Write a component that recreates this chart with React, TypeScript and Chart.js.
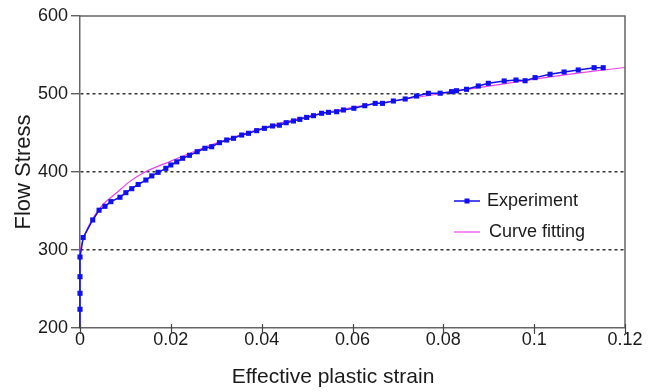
import React, { useEffect, useRef } from 'react';
import { Chart, registerables } from 'chart.js';

Chart.register(...registerables);

const expStrain = [
  0, 0, 0, 0, 0, 0.0007, 0.0028, 0.0042, 0.0055, 0.0068, 0.0088, 0.0101, 0.0114, 0.0128,
  0.0145, 0.0158, 0.0172, 0.0189, 0.02, 0.0213, 0.0226, 0.0241, 0.0258, 0.0275, 0.029,
  0.0307, 0.0323, 0.0338, 0.0356, 0.0371, 0.0389, 0.0406, 0.0424, 0.0439, 0.0454, 0.047,
  0.0484, 0.0499, 0.0514, 0.0532, 0.0547, 0.0565, 0.058, 0.0603, 0.0627, 0.065, 0.0666,
  0.069, 0.0716, 0.0741, 0.0767, 0.0793, 0.0818, 0.0829, 0.0851, 0.0877, 0.0899, 0.0934,
  0.096, 0.098, 0.1002, 0.1035, 0.1066, 0.1097, 0.1132, 0.1152,
];
const expStress = [
  200, 224, 244.5, 265.8, 291, 316, 338.5, 351, 356, 362, 367.6, 373.5, 378.6, 384,
  389.7, 395, 399.6, 404.7, 409, 413, 417.6, 421.4, 426, 430.4, 432.4,
  437.6, 441, 443.2, 447.4, 449.6, 453, 456, 459, 460, 463.2, 465.4,
  467.5, 470, 472.2, 475.3, 476.5, 477.3, 479.5, 481.7, 485, 488, 488,
  491, 493.6, 497.4, 500.9, 501, 503, 504.2, 506, 510.3, 513.7, 516.7,
  517.9, 517, 521, 525.3, 528.2, 530.8, 533.7, 533.7,
];
const fitStrain = [
  0, 0.0005, 0.0015, 0.003, 0.005, 0.008, 0.011, 0.014, 0.02, 0.025, 0.03, 0.04, 0.05,
  0.06, 0.07, 0.08, 0.09, 0.1, 0.11, 0.12,
];
const fitStress = [
  298, 310, 326, 342, 358, 373, 388, 399, 414, 426, 437, 456, 471,
  483, 492, 501, 510, 519, 527, 534,
];
const xTicks = [0, 0.02, 0.04, 0.06, 0.08, 0.1, 0.12];
const yTicks = [200, 300, 400, 500, 600];
const xTitle = 'Effective plastic strain';
const yTitle = 'Flow Stress';
const seriesNames = ['Experiment', 'Curve fitting'];

const FONT = '"Liberation Sans", Arial, Helvetica, sans-serif';
const BLUE = '#1010ee';
const PINK = '#f040f0';

export default function App() {
  const ref = useRef<HTMLCanvasElement>(null);

  useEffect(() => {
    if (!ref.current) return;

    const decor = {
      id: 'decor',
      afterDraw(chart: any) {
        const { ctx, chartArea: a, scales } = chart;
        ctx.save();
        // frame top & right
        ctx.strokeStyle = '#666';
        ctx.lineWidth = 1.5;
        ctx.beginPath();
        ctx.moveTo(a.left, a.top);
        ctx.lineTo(a.right, a.top);
        ctx.lineTo(a.right, a.bottom);
        ctx.stroke();
        // x ticks crossing the axis
        ctx.strokeStyle = '#444';
        ctx.lineWidth = 1.2;
        for (const v of xTicks) {
          const px = Math.round(scales.x.getPixelForValue(v)) + 0.5;
          ctx.beginPath();
          ctx.moveTo(px, a.bottom - 4);
          ctx.lineTo(px, a.bottom + 6);
          ctx.stroke();
        }
        // axis titles
        ctx.fillStyle = '#1a1a1a';
        ctx.textAlign = 'center';
        ctx.textBaseline = 'middle';
        ctx.font = `21px ${FONT}`;
        ctx.fillText(xTitle, 333, 377);
        ctx.save();
        ctx.translate(24, 172);
        ctx.rotate(-Math.PI / 2);
        ctx.font = `22px ${FONT}`;
        ctx.fillText(yTitle, 0, 0);
        ctx.restore();
        // legend
        ctx.textAlign = 'left';
        ctx.font = `18px ${FONT}`;
        ctx.lineWidth = 1.5;
        ctx.strokeStyle = BLUE;
        ctx.beginPath();
        ctx.moveTo(454, 201);
        ctx.lineTo(480, 201);
        ctx.stroke();
        ctx.fillStyle = BLUE;
        ctx.fillRect(464.5, 198.5, 5, 5);
        ctx.strokeStyle = PINK;
        ctx.lineWidth = 1.2;
        ctx.beginPath();
        ctx.moveTo(454, 232);
        ctx.lineTo(480, 232);
        ctx.stroke();
        ctx.fillStyle = '#1a1a1a';
        ctx.fillText(seriesNames[0], 487, 201);
        ctx.fillText(seriesNames[1], 489, 232);
        ctx.restore();
      },
    };

    const chart = new Chart(ref.current, {
      type: 'line',
      data: {
        datasets: [
          {
            label: seriesNames[0],
            data: expStrain.map((x, i) => ({ x, y: expStress[i] })),
            borderColor: BLUE,
            backgroundColor: BLUE,
            borderWidth: 1.5,
            pointStyle: 'rect',
            pointRadius: expStrain.map((_, i) => (i === 0 ? 0 : 3.6)),
            pointBorderWidth: 0,
            tension: 0,
            clip: false,
          },
          {
            label: seriesNames[1],
            data: fitStrain.map((x, i) => ({ x, y: fitStress[i] })),
            borderColor: PINK,
            backgroundColor: PINK,
            borderWidth: 1.2,
            pointRadius: 0,
            cubicInterpolationMode: 'monotone',
          },
        ],
      },
      options: {
        animation: false,
        responsive: true,
        maintainAspectRatio: false,
        layout: { padding: { top: 16, right: 25, left: 0, bottom: 0 } },
        plugins: { legend: { display: false }, tooltip: { enabled: false } },
        scales: {
          x: {
            type: 'linear',
            min: 0,
            max: 0.12,
            afterBuildTicks: (s: any) => {
              s.ticks = xTicks.map((v) => ({ value: v }));
            },
            afterFit: (s: any) => {
              s.height = 64;
            },
            grid: { display: true, drawOnChartArea: false, drawTicks: false },
            border: { display: true, color: '#666', width: 1.5 },
            ticks: {
              padding: 1,
              color: '#1a1a1a',
              font: { family: FONT, size: 18 },
              maxRotation: 0,
              callback: (v: any) => String(Math.round(Number(v) * 100) / 100),
            },
          },
          y: {
            type: 'linear',
            min: 200,
            max: 600,
            afterBuildTicks: (s: any) => {
              s.ticks = yTicks.map((v) => ({ value: v }));
            },
            afterFit: (s: any) => {
              s.width = 80;
            },
            grid: {
              display: true,
              drawOnChartArea: true,
              drawTicks: true,
              tickLength: 9,
              tickColor: '#444',
              tickWidth: 1.2,
              lineWidth: 1.5,
              color: (c: any) =>
                c.tick && (c.tick.value === 200 || c.tick.value === 600) ? 'rgba(0,0,0,0)' : '#333',
            },
            border: { display: true, color: '#666', width: 1.5, dash: [3, 3] },
            ticks: {
              padding: 3,
              color: '#1a1a1a',
              font: { family: FONT, size: 18 },
            },
          },
        },
      },
      plugins: [decor],
    } as any);

    return () => chart.destroy();
  }, []);

  return (
    <div style={{ position: 'fixed', left: 0, top: 0, width: 650, height: 392, background: '#fff' }}>
      <canvas ref={ref} />
    </div>
  );
}
